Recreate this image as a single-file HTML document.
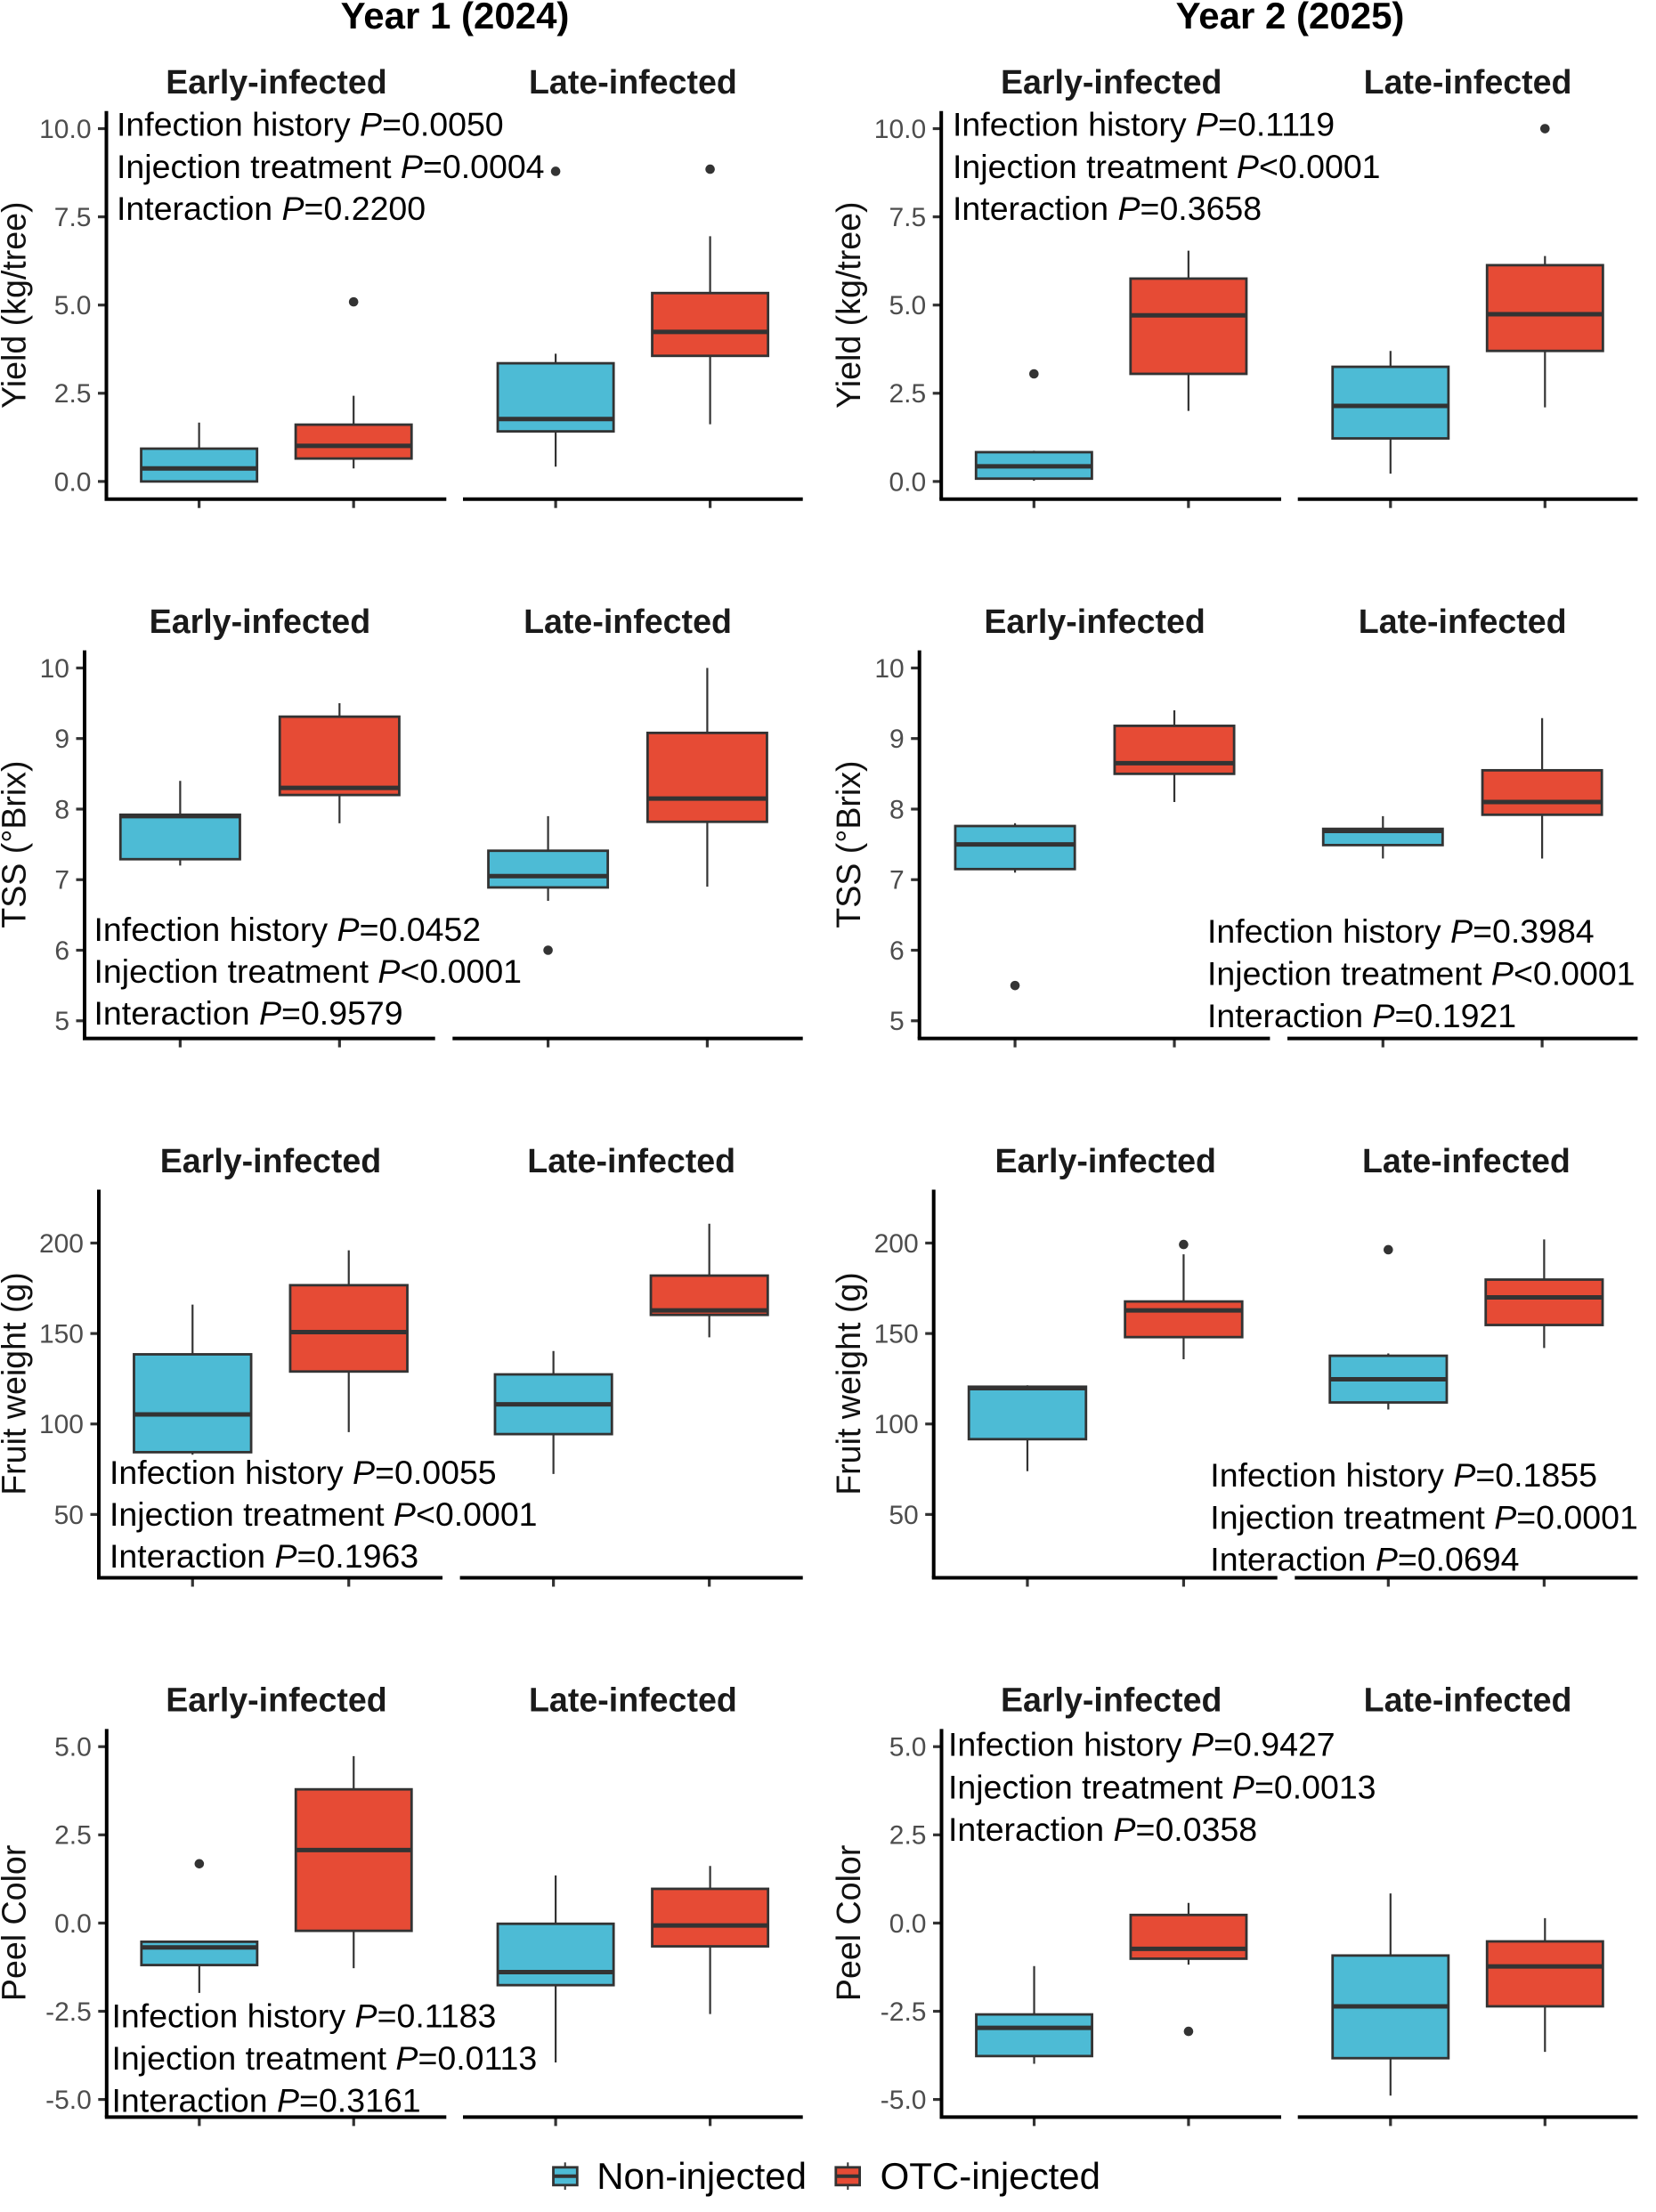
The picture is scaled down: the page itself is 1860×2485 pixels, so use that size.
<!DOCTYPE html>
<html lang="en">
<head>
<meta charset="utf-8">
<title>Yield and fruit quality by infection history and injection treatment</title>
<style>
html,body{margin:0;padding:0;background:#fff;}
svg{display:block;font-family:"Liberation Sans",Arial,sans-serif;}
.year{font-size:42px;font-weight:700;fill:#000;text-anchor:middle;}
.facet{font-size:37.6px;font-weight:700;fill:#1a1a1a;text-anchor:middle;}
.note{font-size:37.5px;fill:#000;}
.note tspan{font-style:italic;}
.ytitle{font-size:37.6px;fill:#111;text-anchor:middle;}
.legend{font-size:42px;fill:#000;}
.tick{font-size:30px;fill:#4d4d4d;text-anchor:end;}
</style>
</head>
<body>
<svg id="chart" xmlns="http://www.w3.org/2000/svg" width="1860" height="2485" viewBox="0 0 1860 2485">
<rect width="1860" height="2485" fill="#fff"/>
<g id="marks"></g>

<text class="year" x="511" y="32">Year 1 (2024)</text>
<text class="year" x="1449" y="32">Year 2 (2025)</text>

<g>
<text class="facet" x="310.5" y="105">Early-infected</text>
<text class="facet" x="710.9" y="105">Late-infected</text>
<text class="facet" x="1248.2" y="105">Early-infected</text>
<text class="facet" x="1648.6" y="105">Late-infected</text>
<text class="facet" x="291.9" y="710.9">Early-infected</text>
<text class="facet" x="705" y="710.9">Late-infected</text>
<text class="facet" x="1229.6" y="710.9">Early-infected</text>
<text class="facet" x="1642.7" y="710.9">Late-infected</text>
<text class="facet" x="304" y="1316.8">Early-infected</text>
<text class="facet" x="709.2" y="1316.8">Late-infected</text>
<text class="facet" x="1241.7" y="1316.8">Early-infected</text>
<text class="facet" x="1646.9" y="1316.8">Late-infected</text>
<text class="facet" x="310.5" y="1922.7">Early-infected</text>
<text class="facet" x="710.9" y="1922.7">Late-infected</text>
<text class="facet" x="1248.2" y="1922.7">Early-infected</text>
<text class="facet" x="1648.6" y="1922.7">Late-infected</text>
</g>

<g>
<text class="ytitle" transform="translate(28.5,342.7) rotate(-90)">Yield (kg/tree)</text>
<text class="ytitle" transform="translate(966,342.7) rotate(-90)">Yield (kg/tree)</text>
<text class="ytitle" transform="translate(28.5,948.6) rotate(-90)">TSS (°Brix)</text>
<text class="ytitle" transform="translate(966,948.6) rotate(-90)">TSS (°Brix)</text>
<text class="ytitle" transform="translate(28.5,1554.5) rotate(-90)">Fruit weight (g)</text>
<text class="ytitle" transform="translate(966,1554.5) rotate(-90)">Fruit weight (g)</text>
<text class="ytitle" transform="translate(28.5,2160.4) rotate(-90)">Peel Color</text>
<text class="ytitle" transform="translate(966,2160.4) rotate(-90)">Peel Color</text>
</g>

<g>
<text class="note" x="131" y="152.6">Infection history <tspan>P</tspan>=0.0050</text>
<text class="note" x="131" y="199.8">Injection treatment <tspan>P</tspan>=0.0004</text>
<text class="note" x="131" y="247">Interaction <tspan>P</tspan>=0.2200</text>
<text class="note" x="1070" y="152.6">Infection history <tspan>P</tspan>=0.1119</text>
<text class="note" x="1070" y="199.8">Injection treatment <tspan>P</tspan>&lt;0.0001</text>
<text class="note" x="1070" y="247">Interaction <tspan>P</tspan>=0.3658</text>
<text class="note" x="105.5" y="1056.9">Infection history <tspan>P</tspan>=0.0452</text>
<text class="note" x="105.5" y="1104">Injection treatment <tspan>P</tspan>&lt;0.0001</text>
<text class="note" x="105.5" y="1151">Interaction <tspan>P</tspan>=0.9579</text>
<text class="note" x="1356" y="1058.9">Infection history <tspan>P</tspan>=0.3984</text>
<text class="note" x="1356" y="1106.4">Injection treatment <tspan>P</tspan>&lt;0.0001</text>
<text class="note" x="1356" y="1153.8">Interaction <tspan>P</tspan>=0.1921</text>
<text class="note" x="123" y="1667">Infection history <tspan>P</tspan>=0.0055</text>
<text class="note" x="123" y="1714.1">Injection treatment <tspan>P</tspan>&lt;0.0001</text>
<text class="note" x="123" y="1761.2">Interaction <tspan>P</tspan>=0.1963</text>
<text class="note" x="1359.3" y="1669.8">Infection history <tspan>P</tspan>=0.1855</text>
<text class="note" x="1359.3" y="1717.3">Injection treatment <tspan>P</tspan>=0.0001</text>
<text class="note" x="1359.3" y="1764.7">Interaction <tspan>P</tspan>=0.0694</text>
<text class="note" x="125.5" y="2277.7">Infection history <tspan>P</tspan>=0.1183</text>
<text class="note" x="125.5" y="2325.1">Injection treatment <tspan>P</tspan>=0.0113</text>
<text class="note" x="125.5" y="2372.6">Interaction <tspan>P</tspan>=0.3161</text>
<text class="note" x="1065" y="1972.7">Infection history <tspan>P</tspan>=0.9427</text>
<text class="note" x="1065" y="2020.4">Injection treatment <tspan>P</tspan>=0.0013</text>
<text class="note" x="1065" y="2068">Interaction <tspan>P</tspan>=0.0358</text>
</g>

<g>
<g>
<line x1="634.7" y1="2429.3" x2="634.7" y2="2460" stroke="#333" stroke-width="2"/>
<rect x="621.5" y="2434.8" width="26.8" height="20" fill="#4DBBD5" stroke="#333" stroke-width="2.8"/>
<line x1="621.5" y1="2444.7" x2="648.3" y2="2444.7" stroke="#333" stroke-width="4"/>
<text class="legend" x="670.2" y="2459">Non-injected</text>
</g>
<g>
<line x1="952.3" y1="2429.3" x2="952.3" y2="2460" stroke="#333" stroke-width="2"/>
<rect x="938.8" y="2434.8" width="26.8" height="20" fill="#E64B35" stroke="#333" stroke-width="2.8"/>
<line x1="938.8" y1="2444.7" x2="965.6" y2="2444.7" stroke="#333" stroke-width="4"/>
<text class="legend" x="988.6" y="2459">OTC-injected</text>
</g>
</g>
</svg>

<script>
// Categories (order within each panel: early non, early OTC, late non, late OTC)
const facets = ['early', 'late'];
const treatments = ['non-injected', 'otc-injected'];

// Tick values and labels
const yieldTicks = [0, 2.5, 5, 7.5, 10];
const yieldTickLabels = ['0.0', '2.5', '5.0', '7.5', '10.0'];
const tssTicks = [5, 6, 7, 8, 9, 10];
const tssTickLabels = ['5', '6', '7', '8', '9', '10'];
const weightTicks = [50, 100, 150, 200];
const weightTickLabels = ['50', '100', '150', '200'];
const peelTicks = [-5, -2.5, 0, 2.5, 5];
const peelTickLabels = ['-5.0', '-2.5', '0.0', '2.5', '5.0'];

// Yield, year 1
const yieldY1Low = [0, 0.37, 0.42, 1.62];
const yieldY1Q1 = [0, 0.65, 1.42, 3.56];
const yieldY1Median = [0.37, 1.01, 1.77, 4.24];
const yieldY1Q3 = [0.93, 1.61, 3.35, 5.34];
const yieldY1High = [1.67, 2.43, 3.62, 6.95];
const yieldY1Outlier = [null, 5.09, 8.79, 8.85];
// Yield, year 2
const yieldY2Low = [0.02, 2.0, 0.22, 2.1];
const yieldY2Q1 = [0.08, 3.05, 1.22, 3.7];
const yieldY2Median = [0.43, 4.71, 2.14, 4.74];
const yieldY2Q3 = [0.83, 5.75, 3.25, 6.13];
const yieldY2High = [0.87, 6.54, 3.7, 6.39];
const yieldY2Outlier = [3.05, null, null, 10.0];
// TSS, year 1
const tssY1Low = [7.2, 7.8, 6.7, 6.9];
const tssY1Q1 = [7.29, 8.2, 6.89, 7.82];
const tssY1Median = [7.9, 8.3, 7.05, 8.15];
const tssY1Q3 = [7.92, 9.31, 7.41, 9.08];
const tssY1High = [8.4, 9.5, 7.9, 10];
const tssY1Outlier = [null, null, 6.0, null];
// TSS, year 2
const tssY2Low = [7.1, 8.1, 7.3, 7.3];
const tssY2Q1 = [7.15, 8.5, 7.49, 7.92];
const tssY2Median = [7.5, 8.65, 7.69, 8.1];
const tssY2Q3 = [7.76, 9.18, 7.72, 8.55];
const tssY2High = [7.8, 9.4, 7.9, 9.29];
const tssY2Outlier = [5.5, null, null, null];
// Fruit weight, year 1
const weightY1Low = [83, 95.5, 72.4, 147.9];
const weightY1Q1 = [84.4, 129, 94.4, 160.3];
const weightY1Median = [105.3, 150.8, 110.9, 162.8];
const weightY1Q3 = [138.5, 176.7, 127.4, 182];
const weightY1High = [166, 196, 140.3, 210.7];
const weightY1Outlier = [null, null, null, null];
// Fruit weight, year 2
const weightY2Low = [73.9, 135.8, 108, 142];
const weightY2Q1 = [91.6, 148, 111.9, 154.7];
const weightY2Median = [119.8, 162.8, 124.7, 170];
const weightY2Q3 = [120.6, 167.7, 137.7, 179.8];
const weightY2High = [121.4, 193.8, 139, 202];
const weightY2Outlier = [null, 199.2, 196.3, null];
// Peel color, year 1
const peelY1Low = [-1.98, -1.28, -3.95, -2.58];
const peelY1Q1 = [-1.19, -0.22, -1.76, -0.66];
const peelY1Median = [-0.69, 2.07, -1.39, -0.07];
const peelY1Q3 = [-0.53, 3.79, -0.02, 0.97];
const peelY1High = [-0.53, 4.73, 1.35, 1.62];
const peelY1Outlier = [1.68, null, null, null];
// Peel color, year 2
const peelY2Low = [-3.99, -1.18, -4.89, -3.65];
const peelY2Q1 = [-3.77, -1.01, -3.83, -2.36];
const peelY2Median = [-2.97, -0.73, -2.36, -1.23];
const peelY2Q3 = [-2.59, 0.23, -0.92, -0.52];
const peelY2High = [-1.22, 0.57, 0.84, 0.14];
const peelY2Outlier = [null, -3.07, null, null];

const SVGNS = 'http://www.w3.org/2000/svg';
const marks = document.getElementById('marks');
const FILLS = {'non-injected': '#4DBBD5', 'otc-injected': '#E64B35'};
const STROKE = '#333333';

function make(tag, attrs, parent) {
  const el = document.createElementNS(SVGNS, tag);
  for (const k in attrs) el.setAttribute(k, attrs[k]);
  parent.appendChild(el);
  return el;
}

function linear(d0, d1, r0, r1) {
  return function (v) { return r0 + (v - d0) / (d1 - d0) * (r1 - r0); };
}

function drawPanel(p) {
  const g = make('g', {}, marks);
  
  
  const y = linear(p.domain[0], p.domain[1], p.bottom, p.top);

  // y axis ticks and labels
  p.ticks.forEach(function (t, i) {
    const tk = make('line', {x1: p.f1[0] - 9.5, x2: p.f1[0], y1: y(t), y2: y(t), stroke: STROKE, 'stroke-width': 3.2}, g);
    
    
    const lb = make('text', {class: 'tick', x: p.f1[0] - 17, y: y(t) + 10.4}, g);
    
    
    lb.textContent = p.labels[i];
  });

  // facets
  [p.f1, p.f2].forEach(function (range, f) {
    const x = linear(0.4, 2.6, range[0], range[1]);
    const unit = x(2) - x(1);
    treatments.forEach(function (tr, c) {
      const i = f * 2 + c;
      const cx = x(c + 1);
      const w = unit * 0.75;
      const key = p.name + '-' + facets[f] + '-' + tr;

      const tk = make('line', {x1: cx, x2: cx, y1: p.bottom, y2: p.bottom + 10, stroke: STROKE, 'stroke-width': 3.2}, g);
      
      

      const wh = make('line', {x1: cx, x2: cx, y1: y(p.high[i]), y2: y(p.low[i]), stroke: STROKE, 'stroke-width': 2.2}, g);
      
      

      const box = make('rect', {x: cx - w / 2, y: y(p.q3[i]), width: w, height: y(p.q1[i]) - y(p.q3[i]), fill: FILLS[tr], stroke: STROKE, 'stroke-width': 2.8}, g);
      
      

      const med = make('line', {x1: cx - w / 2, x2: cx + w / 2, y1: y(p.median[i]), y2: y(p.median[i]), stroke: STROKE, 'stroke-width': 5}, g);
      
      

      if (p.outlier[i] !== null) {
        const dot = make('circle', {cx: cx, cy: y(p.outlier[i]), r: 5.3, fill: STROKE}, g);
        
        
      }
    });

    const ax = make('line', {x1: range[0] - (f === 0 ? 2 : 0), x2: range[1], y1: p.bottom, y2: p.bottom, stroke: '#000', 'stroke-width': 4}, g);
    
    
  });

  const yax = make('line', {x1: p.f1[0], x2: p.f1[0], y1: p.top, y2: p.bottom, stroke: '#000', 'stroke-width': 4}, g);
  
  
}

const COL2 = 937.7;
function shift(r, d) { return [r[0] + d, r[1] + d]; }

// Yield row
drawPanel({name: 'yield-y1', top: 124.7, bottom: 560.7, domain: [-0.5, 10.5], f1: [119.5, 501.3], f2: [520, 901.7], ticks: yieldTicks, labels: yieldTickLabels, low: yieldY1Low, q1: yieldY1Q1, median: yieldY1Median, q3: yieldY1Q3, high: yieldY1High, outlier: yieldY1Outlier});
drawPanel({name: 'yield-y2', top: 124.7, bottom: 560.7, domain: [-0.5, 10.5], f1: shift([119.5, 501.3], COL2), f2: shift([520, 901.7], COL2), ticks: yieldTicks, labels: yieldTickLabels, low: yieldY2Low, q1: yieldY2Q1, median: yieldY2Median, q3: yieldY2Q3, high: yieldY2High, outlier: yieldY2Outlier});
// TSS row
drawPanel({name: 'tss-y1', top: 730.6, bottom: 1166.6, domain: [4.75, 10.25], f1: [95, 488.7], f2: [508.3, 901.7], ticks: tssTicks, labels: tssTickLabels, low: tssY1Low, q1: tssY1Q1, median: tssY1Median, q3: tssY1Q3, high: tssY1High, outlier: tssY1Outlier});
drawPanel({name: 'tss-y2', top: 730.6, bottom: 1166.6, domain: [4.75, 10.25], f1: shift([95, 488.7], COL2), f2: shift([508.3, 901.7], COL2), ticks: tssTicks, labels: tssTickLabels, low: tssY2Low, q1: tssY2Q1, median: tssY2Median, q3: tssY2Q3, high: tssY2High, outlier: tssY2Outlier});
// Fruit weight row
drawPanel({name: 'weight-y1', top: 1336.5, bottom: 1772.5, domain: [15, 229.5], f1: [111, 497], f2: [516.6, 901.7], ticks: weightTicks, labels: weightTickLabels, low: weightY1Low, q1: weightY1Q1, median: weightY1Median, q3: weightY1Q3, high: weightY1High, outlier: weightY1Outlier});
drawPanel({name: 'weight-y2', top: 1336.5, bottom: 1772.5, domain: [15, 229.5], f1: shift([111, 497], COL2), f2: shift([516.6, 901.7], COL2), ticks: weightTicks, labels: weightTickLabels, low: weightY2Low, q1: weightY2Q1, median: weightY2Median, q3: weightY2Q3, high: weightY2High, outlier: weightY2Outlier});
// Peel color row
drawPanel({name: 'peel-y1', top: 1942.4, bottom: 2378.4, domain: [-5.5, 5.5], f1: [119.8, 501.3], f2: [520, 901.7], ticks: peelTicks, labels: peelTickLabels, low: peelY1Low, q1: peelY1Q1, median: peelY1Median, q3: peelY1Q3, high: peelY1High, outlier: peelY1Outlier});
drawPanel({name: 'peel-y2', top: 1942.4, bottom: 2378.4, domain: [-5.5, 5.5], f1: shift([119.8, 501.3], COL2), f2: shift([520, 901.7], COL2), ticks: peelTicks, labels: peelTickLabels, low: peelY2Low, q1: peelY2Q1, median: peelY2Median, q3: peelY2Q3, high: peelY2High, outlier: peelY2Outlier});
</script>
</body>
</html>
